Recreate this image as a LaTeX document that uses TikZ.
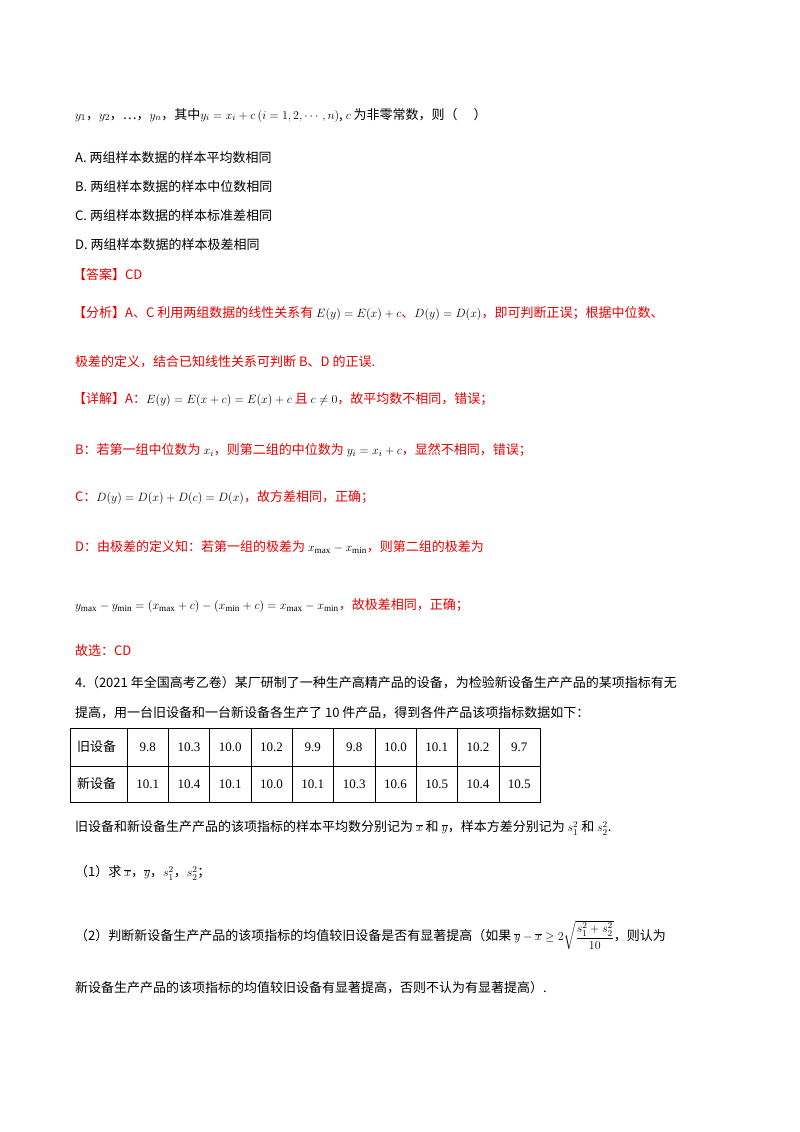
\documentclass[tikz,border=0pt]{standalone}
\usepackage{amsmath}
\usepackage{fontspec}
\setmainfont{Liberation Serif}
\newfontfamily\cjk{Noto Sans CJK SC}
\definecolor{ans}{RGB}{230,0,0}
\begin{document}
\begin{tikzpicture}[x=1pt,y=-1pt,
  t/.style={anchor=west,inner sep=0pt,font=\cjk\fontsize{13}{15}\selectfont},
  r/.style={t,text=ans},
  cell/.style={anchor=center,inner sep=0pt,font=\fontsize{13}{15}\selectfont}]
\useasboundingbox (0,0) rectangle (800,1132);
\node[t] (l1) at (75,115) {$y_1$，$y_2$，…，$y_n$，其中$y_i=x_i+c$\,$(i=1,2,\cdots,n)$, $c$ 为非零常数，则（\quad\ ）};
\node[t] (oa) at (75,158) {A.\ 两组样本数据的样本平均数相同};
\node[t] (ob) at (75,187) {B.\ 两组样本数据的样本中位数相同};
\node[t] (oc) at (75,216) {C.\ 两组样本数据的样本标准差相同};
\node[t] (od) at (75,245) {D.\ 两组样本数据的样本极差相同};
\node[r] (ans) at (73,275) {【答案】CD};
\node[r] (an1) at (73,313) {【分析】A、C 利用两组数据的线性关系有 \textcolor{black}{$E(y)=E(x)+c$}、\textcolor{black}{$D(y)=D(x)$}，即可判断正误；根据中位数、};
\node[r] (an2) at (75,362) {极差的定义，结合已知线性关系可判断 B、D 的正误.};
\node[r] (d1) at (73,399) {【详解】A：\textcolor{black}{$E(y)=E(x+c)=E(x)+c$} 且 \textcolor{black}{$c\neq0$}，故平均数不相同，错误；};
\node[r] (d2) at (75,450) {B：若第一组中位数为 \textcolor{black}{$x_i$}，则第二组的中位数为 \textcolor{black}{$y_i=x_i+c$}，显然不相同，错误；};
\node[r] (d3) at (75,497) {C：\textcolor{black}{$D(y)=D(x)+D(c)=D(x)$}，故方差相同，正确；};
\node[r] (d4) at (75,547) {D：由极差的定义知：若第一组的极差为 \textcolor{black}{$x_{\max}-x_{\min}$}，则第二组的极差为};
\node[r] (d5) at (75,606) {\textcolor{black}{$y_{\max}-y_{\min}=(x_{\max}+c)-(x_{\min}+c)=x_{\max}-x_{\min}$}，故极差相同，正确；};
\node[r] (sel) at (75,651) {故选：CD};
\node[t] (q1) at (75,683) {4.（2021 年全国高考乙卷）某厂研制了一种生产高精产品的设备，为检验新设备生产产品的某项指标有无};
\node[t] (q2) at (75,713) {提高，用一台旧设备和一台新设备各生产了 10 件产品，得到各件产品该项指标数据如下：};
% table
\draw (70,728) rectangle (540,802);
\draw (70,766) -- (540,766);
\foreach \k in {0,...,9}{\draw ({127+41.3*\k},728) -- ({127+41.3*\k},802);}
\node[t] (h1) at (77,747) {旧设备};
\node[t] (h2) at (77,784) {新设备};
\foreach \v [count=\i] in {9.8,10.3,10.0,10.2,9.9,9.8,10.0,10.1,10.2,9.7}{
  \node[cell] (o\i) at ({127+41.3*(\i-0.5)},747) {\v};}
\foreach \v [count=\i] in {10.1,10.4,10.1,10.0,10.1,10.3,10.6,10.5,10.4,10.5}{
  \node[cell] (n\i) at ({127+41.3*(\i-0.5)},784) {\v};}
\node[t] (p1) at (75,828) {旧设备和新设备生产产品的该项指标的样本平均数分别记为 $\overline{x}$ 和 $\overline{y}$，样本方差分别记为 $s_1^2$ 和 $s_2^2$.};
\node[t] (p2) at (75,873) {（1）求 $\overline{x}$，$\overline{y}$，$s_1^2$，$s_2^2$；};
\node[t] (p3) at (75,935) {（2）判断新设备生产产品的该项指标的均值较旧设备是否有显著提高（如果 $\overline{y}-\overline{x}\geq2\sqrt{\dfrac{s_1^2+s_2^2}{10}}$，则认为};
\node[t] (p4) at (75,988) {新设备生产产品的该项指标的均值较旧设备有显著提高，否则不认为有显著提高）.};
\end{tikzpicture}
\end{document}
